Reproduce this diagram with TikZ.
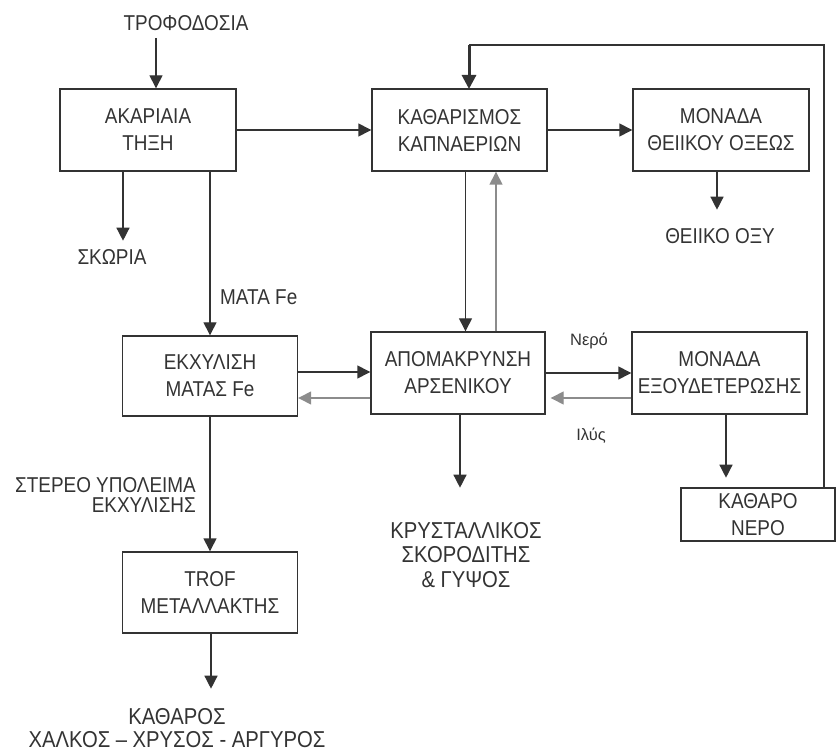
\documentclass[tikz,border=0pt]{standalone}
\usepackage{fontspec}
\setmainfont[FakeStretch=0.88]{Liberation Sans}
\newfontfamily\plainsans{Liberation Sans}
\usetikzlibrary{arrows.meta}
\definecolor{ink}{HTML}{333333}
\definecolor{retgray}{HTML}{8C8C8C}
\tikzset{
  box/.style={draw=ink, line width=1.4pt, rectangle, align=center, text=ink,
    font=\fontsize{21.5}{27}\selectfont, inner sep=0pt},
  lbl/.style={text=ink, align=center, font=\fontsize{21.5}{27}\selectfont, inner sep=0pt},
  biglbl/.style={text=ink, align=center, font=\fontsize{23}{24.5}\selectfont, inner sep=0pt},
  smalllbl/.style={text=ink, font=\plainsans\fontsize{16.5}{18}\selectfont, inner sep=0pt},
  conn/.style={draw=ink, line width=1.4pt},
  arr/.style={conn, -{Triangle[length=13pt,width=13pt]}},
  retarr/.style={draw=retgray, line width=1.4pt, -{Triangle[length=13pt,width=13pt]}},
}
\begin{document}
\begin{tikzpicture}[x=1pt,y=-1pt]
\useasboundingbox (0,0) rectangle (836,751);
% boxes
\node[box, minimum width=176pt, minimum height=82pt] (thexi) at (148,130) {ΑΚΑΡΙΑΙΑ\\ΤΗΞΗ};
\node[box, minimum width=175pt, minimum height=82pt] (kath) at (459.5,130) {ΚΑΘΑΡΙΣΜΟΣ\\ΚΑΠΝΑΕΡΙΩΝ};
\node[box, minimum width=176pt, minimum height=82pt] (theiiko) at (721,130) {ΜΟΝΑΔΑ\\ΘΕΙΙΚΟΥ ΟΞΕΩΣ};
\node[box, minimum width=175pt, minimum height=80pt] (ekx) at (210,376) {ΕΚΧΥΛΙΣΗ\\ΜΑΤΑΣ Fe};
\node[box, minimum width=174pt, minimum height=82pt] (apo) at (458,373) {ΑΠΟΜΑΚΡΥΝΣΗ\\ΑΡΣΕΝΙΚΟΥ};
\node[box, minimum width=175pt, minimum height=82pt] (exoud) at (719.5,373) {ΜΟΝΑΔΑ\\ΕΞΟΥΔΕΤΕΡΩΣΗΣ};
\node[box, minimum width=175pt, minimum height=81pt] (trof) at (210,592.5) {TROF\\ΜΕΤΑΛΛΑΚΤΗΣ};
\node[box, minimum width=154pt, minimum height=53pt, font=\fontsize{21.5}{27}\selectfont] (kneró) at (758,514.5) {ΚΑΘΑΡΟ\\ΝΕΡΟ};
% labels
\node[lbl] (trofod) at (186,23) {ΤΡΟΦΟΔΟΣΙΑ};
\node[lbl] (skoria) at (112,257) {ΣΚΩΡΙΑ};
\node[lbl, anchor=west] (matafe) at (220,297) {ΜΑΤΑ Fe};
\node[lbl] (oxy) at (720,236) {ΘΕΙΙΚΟ ΟΞΥ};
\node[smalllbl] (nerolbl) at (589,341) {Νερό};
\node[smalllbl] (ilys) at (591,436) {Ιλύς};
\node[lbl, anchor=east, align=right, font=\fontsize{21.5}{20}\selectfont] (stereo) at (196,495) {ΣΤΕΡΕΟ ΥΠΟΛΕΙΜΑ\\ΕΚΧΥΛΙΣΗΣ};
\node[biglbl] (kryst) at (466,555) {ΚΡΥΣΤΑΛΛΙΚΟΣ\\ΣΚΟΡΟΔΙΤΗΣ\\\& ΓΥΨΟΣ};
\node[biglbl, font=\fontsize{23}{22.5}\selectfont] (katharos) at (177,728) {ΚΑΘΑΡΟΣ\\ΧΑΛΚΟΣ – ΧΡΥΣΟΣ - ΑΡΓΥΡΟΣ};
% connectors
\coordinate (t1) at (156,38);
\draw[arr] (t1) -- (t1 |- thexi.north);
\draw[arr] (thexi.east) -- (kath.west);
\draw[arr] (kath.east) -- (theiiko.west);
\draw[arr] ([xshift=-25pt]thexi.south) -- ++(0,69);
\draw[arr] ([xshift=62pt]thexi.south) -- (ekx.north);
\draw[arr] ([xshift=-4pt]theiiko.south) -- ++(0,38);
% recycle loop
\coordinate (fb) at (824,45);
\draw[conn] (fb |- kneró.north) -- (fb) -- (469,45);
\draw[draw=ink, line width=3pt, -{Triangle[length=14pt,width=14pt]}] (469,45) -- (469,89);
% kath <-> apo
\draw[arr] ([xshift=6pt]kath.south) -- ([xshift=6pt]kath.south |- apo.north);
\draw[retarr] ([xshift=38pt]apo.north) -- ([xshift=38pt]apo.north |- kath.south);
% ekx <-> apo
\draw[arr] (ekx.east |- 0,372) -- (apo.west |- 0,372);
\draw[retarr] (apo.west |- 0,398) -- (ekx.east |- 0,398);
% apo <-> exoud
\draw[arr] (apo.east |- 0,373) -- (exoud.west |- 0,373);
\draw[retarr] (exoud.west |- 0,398) -- ([xshift=5pt]apo.east |- 0,398);
% downward outputs
\draw[arr] ([xshift=2pt]apo.south) -- ++(0,73);
\draw[arr] ([xshift=6.5pt]exoud.south) -- ++(0,63);
\draw[arr] (ekx.south) -- (trof.north);
\draw[arr] ([xshift=1pt]trof.south) -- ++(0,55);
\end{tikzpicture}
\end{document}
